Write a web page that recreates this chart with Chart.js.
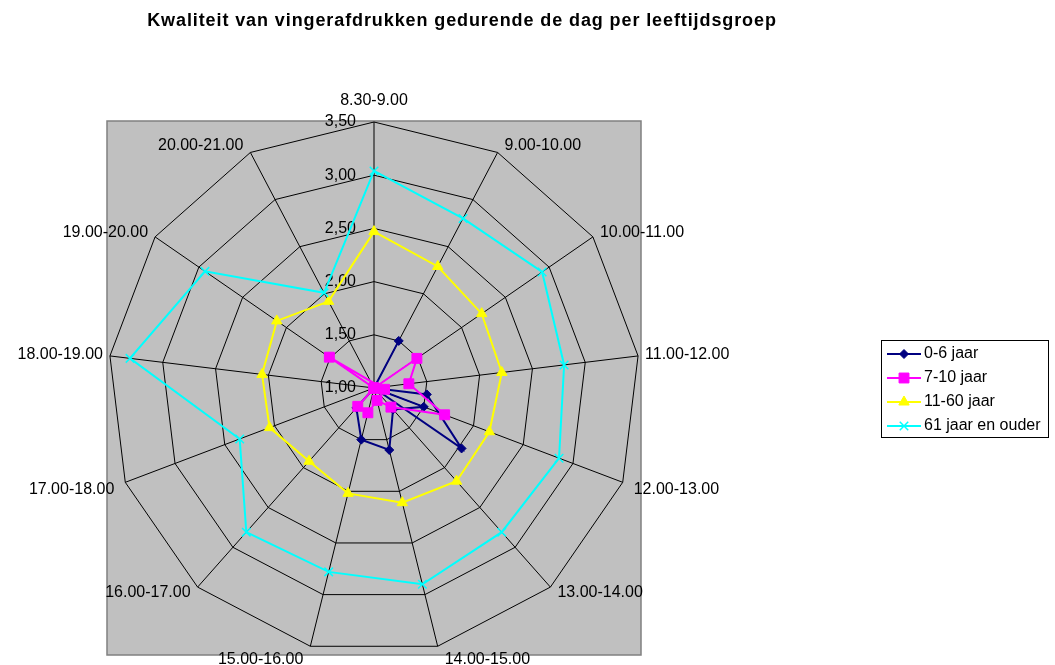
<!DOCTYPE html>
<html>
<head>
<meta charset="utf-8">
<script src="https://cdn.jsdelivr.net/npm/chart.js@4.4.1/dist/chart.umd.min.js"></script>
<style>
html, body { margin: 0; padding: 0; background: #fff; }
#wrap { position: relative; width: 1055px; height: 665px; }
</style>
</head>
<body>
<div id="wrap"><canvas id="radarChart" width="1055" height="665"></canvas></div>
<script>
const chartTitle = 'Kwaliteit van vingerafdrukken gedurende de dag per leeftijdsgroep';
const timeSlots = ['8.30-9.00', '9.00-10.00', '10.00-11.00', '11.00-12.00', '12.00-13.00',
    '13.00-14.00', '14.00-15.00', '15.00-16.00', '16.00-17.00', '17.00-18.00',
    '18.00-19.00', '19.00-20.00', '20.00-21.00'];
const ageGroups = ['0-6 jaar', '7-10 jaar', '11-60 jaar', '61 jaar en ouder'];

// values (values under 1,00 end up on the other side of the centre, like in Excel)
const age0to6   = [1.00, 1.50, 1.00, 1.00, 1.50, 1.27, 1.60, 1.50, 1.25, 1.00, 0.50, 0.00, 1.00];
const age7to10  = [1.00, 1.00, 1.49, 1.33, 1.71, 1.24, 1.12, 1.24, 1.23, 1.00, 0.90, 1.51, 1.00];
const age11to60 = [2.47, 2.29, 2.23, 2.21, 2.16, 2.17, 2.11, 2.02, 1.92, 2.05, 2.06, 2.11, 1.92];
const age61plus = [3.04, 2.80, 2.92, 2.80, 2.86, 2.81, 2.90, 2.78, 2.81, 2.35, 3.31, 2.93, 2.01];

const rTicks = [1.0, 1.5, 2.0, 2.5, 3.0, 3.5];

const seriesColors = ['#000080', '#FF00FF', '#FFFF00', '#00FFFF'];
const seriesMarkers = ['rectRot', 'rect', 'triangle', 'crossRot'];
const markerSizes = [4.5, 7, 6, 6];

const fontName = '"Liberation Sans", Arial, sans-serif';

function fmtTick(v) {
    return v.toFixed(2).replace('.', ',');
}

function drawMarker(ctx, style, r, x, y, color) {
    if (Chart.helpers && Chart.helpers.drawPoint) {
        ctx.fillStyle = color;
        ctx.strokeStyle = color;
        ctx.lineWidth = style === 'crossRot' ? 1.5 : 1;
        Chart.helpers.drawPoint(ctx, { pointStyle: style, radius: r, rotation: 0, borderWidth: ctx.lineWidth }, x, y);
    }
}

const excelLook = {
    id: 'excelLook',
    beforeDraw(chart) {
        const s = chart.scales.r;
        const ctx = chart.ctx;
        const r = s.drawingArea;
        ctx.save();
        ctx.fillStyle = '#C0C0C0';
        ctx.fillRect(s.xCenter - r - 1, s.yCenter - r - 1, 2 * r + 2, 2 * r + 2);
        ctx.strokeStyle = '#808080';
        ctx.lineWidth = 1.5;
        ctx.strokeRect(s.xCenter - r - 1, s.yCenter - r - 1, 2 * r + 2, 2 * r + 2);
        ctx.restore();
    },
    beforeDatasetsDraw(chart) {
        const s = chart.scales.r;
        const ctx = chart.ctx;
        ctx.save();
        ctx.fillStyle = '#000';
        ctx.font = '16px ' + fontName;

        // value labels left of the vertical axis
        ctx.textAlign = 'right';
        ctx.textBaseline = 'middle';
        rTicks.forEach(v => {
            const y = s.yCenter - s.getDistanceFromCenterForValue(v);
            ctx.fillText(fmtTick(v), s.xCenter - 18, y);
        });

        // category labels outside the web
        const n = timeSlots.length;
        timeSlots.forEach((lbl, i) => {
            const p = s.getPointPosition(i, s.drawingArea);
            const a = i * 2 * Math.PI / n;
            const sn = Math.sin(a), cs = Math.cos(a);
            if (Math.abs(sn) < 0.05) {
                ctx.textAlign = 'center';
                ctx.textBaseline = 'bottom';
                ctx.fillText(lbl, p.x, p.y - 13);
                return;
            }
            let dx = 7, dy = -cs * 8;
            if (cs < -0.2 && cs > -0.5) { dx = 11; dy += 4; }
            if (cs < -0.9) { dy += 6; }
            ctx.textAlign = sn > 0 ? 'left' : 'right';
            ctx.textBaseline = 'middle';
            ctx.fillText(lbl, p.x + (sn > 0 ? dx : -dx), p.y + dy);
        });
        ctx.restore();
    },
    afterDraw(chart) {
        const ctx = chart.ctx;
        ctx.save();
        // title
        ctx.fillStyle = '#000';
        ctx.font = 'bold 18px ' + fontName;
        if ('letterSpacing' in ctx) ctx.letterSpacing = '0.9px';
        ctx.textAlign = 'center';
        ctx.textBaseline = 'middle';
        ctx.fillText(chartTitle, 462, 21);
        if ('letterSpacing' in ctx) ctx.letterSpacing = '0px';

        // legend
        const bx = 881, by = 340, bw = 167, bh = 97;
        ctx.fillStyle = '#fff';
        ctx.fillRect(bx, by, bw, bh);
        ctx.strokeStyle = '#000';
        ctx.lineWidth = 1;
        ctx.strokeRect(bx + 0.5, by + 0.5, bw, bh);
        ctx.font = '16px ' + fontName;
        ctx.textAlign = 'left';
        ageGroups.forEach((name, i) => {
            const y = by + 14 + i * 24;
            ctx.strokeStyle = seriesColors[i];
            ctx.lineWidth = 2;
            ctx.beginPath();
            ctx.moveTo(bx + 6, y);
            ctx.lineTo(bx + 40, y);
            ctx.stroke();
            drawMarker(ctx, seriesMarkers[i], markerSizes[i], bx + 23, y, seriesColors[i]);
            ctx.fillStyle = '#000';
            ctx.fillText(name, bx + 43, y);
        });
        ctx.restore();
    }
};

const seriesData = [age0to6, age7to10, age11to60, age61plus];

const ctx = document.getElementById('radarChart').getContext('2d');
new Chart(ctx, {
    type: 'radar',
    data: {
        labels: timeSlots,
        datasets: seriesData.map((d, i) => ({
            label: ageGroups[i],
            data: d,
            borderColor: seriesColors[i],
            backgroundColor: seriesColors[i],
            pointBackgroundColor: seriesColors[i],
            pointBorderColor: seriesColors[i],
            pointStyle: seriesMarkers[i],
            pointRadius: markerSizes[i],
            pointBorderWidth: i === 3 ? 1.5 : 1,
            borderWidth: 2,
            fill: false,
            tension: 0,
            order: 4 - i
        }))
    },
    options: {
        responsive: false,
        animation: false,
        layout: { padding: { left: 108, top: 122, right: 414, bottom: 10 } },
        plugins: {
            legend: { display: false },
            title: { display: false },
            tooltip: { enabled: false }
        },
        scales: {
            r: {
                min: 1,
                max: 3.5,
                afterBuildTicks: scale => { scale.ticks = rTicks.map(v => ({ value: v })); },
                ticks: { display: false, stepSize: 0.5 },
                pointLabels: { display: false },
                grid: { color: '#000', lineWidth: 1 },
                angleLines: { color: '#000', lineWidth: 1 }
            }
        }
    },
    plugins: [excelLook]
});
</script>
</body>
</html>
